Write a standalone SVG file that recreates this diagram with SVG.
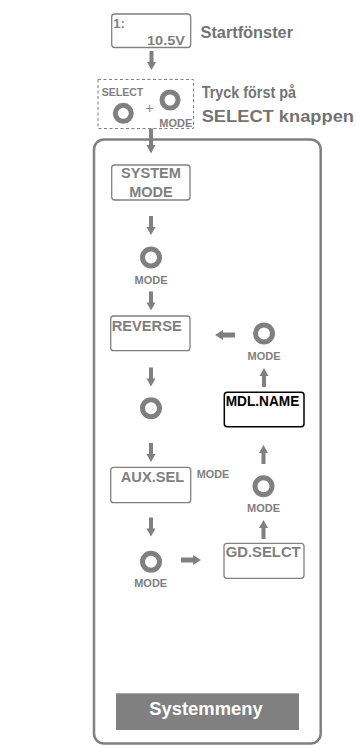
<svg xmlns="http://www.w3.org/2000/svg" width="356" height="745" viewBox="0 0 356 745">
<style>
text{font-family:"Liberation Sans",Arial,sans-serif;font-weight:bold;fill:#7f7f7f}
.box{fill:#fff;stroke:#808080;stroke-width:1.3}
.btn{fill:none;stroke:#808080;stroke-width:5}
.arr{fill:#808080}
.lbl{font-size:11px;text-anchor:middle}
.bt{font-size:14.5px}
.hd{font-size:17px;fill:#737373}
</style>
<defs>
<path id="ad" d="M-2,0 L2,0 L2,11 L4.5,11 L0,19 L-4.5,11 L-2,11 Z"/>
<path id="ah" d="M0,-2.5 L12,-2.5 L12,-5 L20,0 L12,5 L12,2.5 L0,2.5 Z"/>
</defs>
<rect width="356" height="745" fill="#fff"/>
<g id="panel"><rect x="94" y="139.5" width="226.7" height="604" rx="10" fill="none" stroke="#808080" stroke-width="2.5"/></g>
<g id="start">
<rect class="box" x="111.7" y="14" width="79" height="33.5" rx="3"/>
<text x="113.3" y="28.3" font-size="13">1:</text>
<text x="185" y="44.5" font-size="13" text-anchor="end" textLength="38" lengthAdjust="spacingAndGlyphs">10.5V</text>
</g>
<g id="startlabel"><text class="hd" x="200.5" y="37.5" textLength="92.5" lengthAdjust="spacingAndGlyphs">Startfönster</text></g>
<g id="selectmode">
<rect x="98" y="79.5" width="95.5" height="49" fill="none" stroke="#808080" stroke-width="1" stroke-dasharray="3,2.5"/>
<text x="101.7" y="95.5" font-size="11" textLength="41.5" lengthAdjust="spacingAndGlyphs">SELECT</text>
<circle class="btn" cx="123.3" cy="113.3" r="8"/>
<text x="149.7" y="112.5" font-size="14" text-anchor="middle" style="font-weight:normal;fill:#8a8a8a">+</text>
<circle class="btn" cx="170" cy="100" r="8"/>
<text class="lbl" x="175.8" y="126.7">MODE</text>
</g>
<g id="instr">
<text class="hd" x="201.7" y="98.3" textLength="94.3" lengthAdjust="spacingAndGlyphs">Tryck först på</text>
<text class="hd" x="201.7" y="121.7" textLength="152.3" lengthAdjust="spacingAndGlyphs">SELECT knappen</text>
</g>
<g id="systemmode">
<rect class="box" x="111.7" y="165" width="78.3" height="35" rx="3"/>
<text class="bt" x="151" y="177.7" text-anchor="middle" textLength="60" lengthAdjust="spacingAndGlyphs">SYSTEM</text>
<text class="bt" x="151" y="197.3" text-anchor="middle">MODE</text>
</g>
<g id="mode1"><circle class="btn" cx="151" cy="257.5" r="8.5"/><text class="lbl" x="151" y="283.5">MODE</text></g>
<g id="reverse">
<rect class="box" x="110.7" y="316" width="79.3" height="34.7" rx="3"/>
<text class="bt" x="111.7" y="330.7" textLength="70" lengthAdjust="spacingAndGlyphs">REVERSE</text>
</g>
<g id="btn2"><circle class="btn" cx="151" cy="408.3" r="8.5"/></g>
<g id="auxsel">
<rect class="box" x="110.7" y="467.3" width="80" height="35.4" rx="3"/>
<text class="bt" x="120.7" y="481.7" textLength="63.6" lengthAdjust="spacingAndGlyphs">AUX.SEL</text>
</g>
<g id="modelabel"><text x="196.7" y="477.7" font-size="11" textLength="32.5" lengthAdjust="spacingAndGlyphs">MODE</text></g>
<g id="mode3"><circle class="btn" cx="151" cy="561.7" r="8.5"/><text class="lbl" x="150.7" y="587.3">MODE</text></g>
<g id="gdselct">
<rect class="box" x="224" y="543.3" width="80" height="35" rx="3"/>
<text class="bt" x="225.7" y="556.7" textLength="75" lengthAdjust="spacingAndGlyphs">GD.SELCT</text>
</g>
<g id="mode4"><circle class="btn" cx="263.5" cy="486.3" r="8.5"/><text class="lbl" x="263.5" y="511.7">MODE</text></g>
<g id="mdlname">
<rect x="224.3" y="392.3" width="79.7" height="34.4" rx="3" fill="#fff" stroke="#000" stroke-width="1.5"/>
<text class="bt" x="225.7" y="405.7" style="fill:#000" textLength="73.6" lengthAdjust="spacingAndGlyphs">MDL.NAME</text>
</g>
<g id="mode5"><circle class="btn" cx="264" cy="333.5" r="8.5"/><text class="lbl" x="264" y="360">MODE</text></g>
<g id="menu">
<rect x="116" y="693.3" width="183" height="36.7" fill="#808080"/>
<text x="206" y="714.5" font-size="18" text-anchor="middle" style="fill:#fff" textLength="113.5" lengthAdjust="spacingAndGlyphs">Systemmeny</text>
</g>
<g id="connectors" class="arr">
<use href="#ad" x="151.5" y="51"/>
<path d="M149,128.5 L153,128.5 L153,145 L155.5,145 L151,153.5 L146.5,145 L149,145 Z"/>
<use href="#ad" x="151" y="216"/>
<use href="#ad" x="151" y="291.5"/>
<use href="#ad" x="151" y="367.5"/>
<use href="#ad" x="151" y="443"/>
<use href="#ad" x="151" y="517.5"/>
<use href="#ah" transform="translate(181,560)"/>
<use href="#ad" transform="translate(263.5,539) rotate(180)"/>
<use href="#ad" transform="translate(263.5,464) rotate(180)"/>
<use href="#ad" transform="translate(264,387) rotate(180)"/>
<use href="#ah" transform="translate(235,335) rotate(180)"/>
</g>
</svg>
